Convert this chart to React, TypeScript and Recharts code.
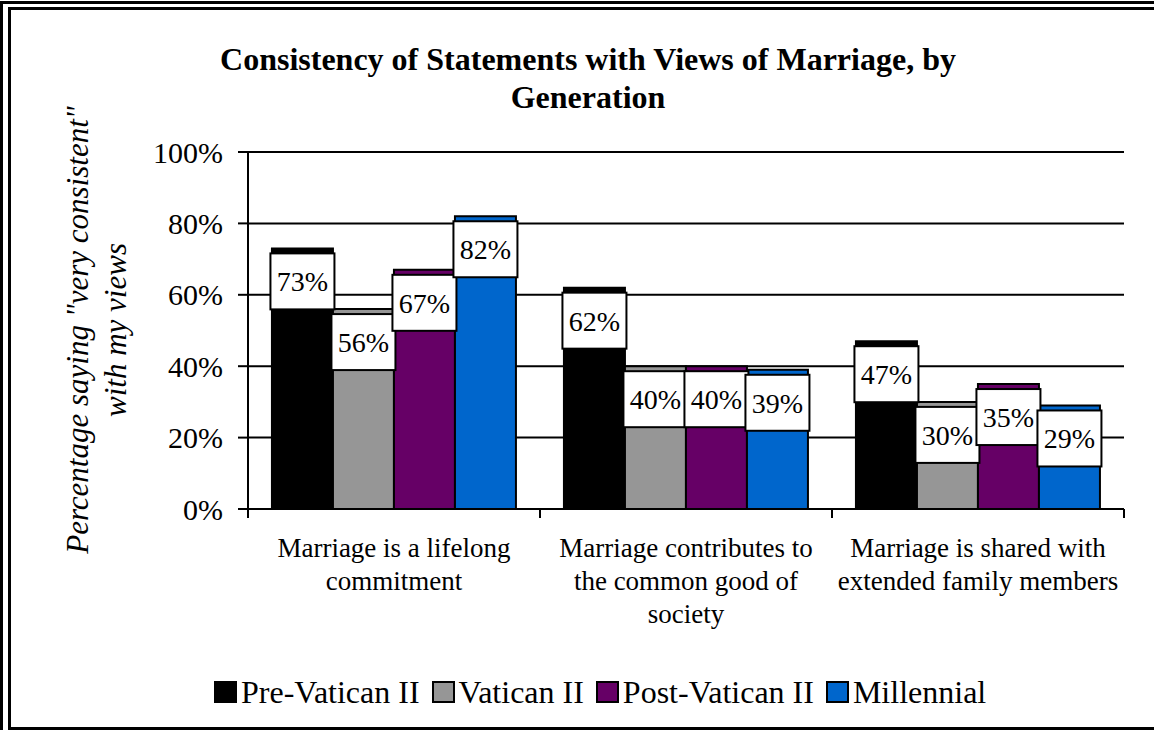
import React from "react";
import {
  Bar,
  BarChart,
  CartesianGrid,
  Customized,
  LabelList,
  Legend,
  XAxis,
  YAxis,
} from "recharts";

// category labels, already broken into lines like the original
const categories = [
  ["Marriage is a lifelong", "commitment"],
  ["Marriage contributes to", "the common good of", "society"],
  ["Marriage is shared with", "extended family members"],
];

const seriesNames = ["Pre-Vatican II", "Vatican II", "Post-Vatican II", "Millennial"];
const seriesColors = ["#000000", "#969696", "#660066", "#0066CC"];

const preVatican = [73, 62, 47];
const vatican = [56, 40, 30];
const postVatican = [67, 40, 35];
const millennial = [82, 39, 29];

const yTicks = [0, 20, 40, 60, 80, 100];

const titleLines = ["Consistency of Statements with Views of Marriage, by", "Generation"];
const yTitleLines = ['Percentage saying "very consistent"', "with my views"];

const seriesValues = [preVatican, vatican, postVatican, millennial];

const data = categories.map((lines, i) => {
  const row: Record<string, string | number> = { name: lines.join(" ") };
  seriesNames.forEach((s, k) => {
    row[s] = seriesValues[k][i];
  });
  return row;
});

const FONT = '"Liberation Serif", "Times New Roman", Times, serif';

// category label plus the tick marks between categories (Excel style)
function CategoryTick(props: any) {
  const { x, y, payload, width, visibleTicksCount, index } = props;
  const band = (width || 876) / (visibleTicksCount || categories.length);
  const lines = categories[payload.index ?? index] || [String(payload.value)];
  return (
    <g>
      {index === 0 && (
        <line x1={x - band / 2} x2={x - band / 2} y1={y} y2={y + 9} stroke="#000" strokeWidth={2} />
      )}
      <line x1={x + band / 2} x2={x + band / 2} y1={y} y2={y + 9} stroke="#000" strokeWidth={2} />
      {lines.map((line, i) => (
        <text
          key={i}
          x={x}
          y={y + 48 + i * 33}
          textAnchor="middle"
          style={{ fontFamily: FONT, fontSize: 27 }}
          fill="#000"
        >
          {line}
        </text>
      ))}
    </g>
  );
}

function BoxLabel(props: any) {
  const { x, y, width, value } = props;
  const cx = x + width / 2;
  const boxW = 64;
  return (
    <g>
      <rect
        x={cx - boxW / 2}
        y={y + 5}
        width={boxW}
        height={56}
        fill="#fff"
        stroke="#000"
        strokeWidth={2}
      />
      <text
        x={cx}
        y={y + 43}
        textAnchor="middle"
        style={{ fontFamily: FONT, fontSize: 28 }}
        fill="#000"
      >
        {`${value}%`}
      </text>
    </g>
  );
}

function Titles() {
  return (
    <g>
      {titleLines.map((t, i) => (
        <text
          key={"t" + i}
          x={588}
          y={70 + i * 38}
          textAnchor="middle"
          style={{ fontFamily: FONT, fontSize: 32, fontWeight: "bold" }}
          fill="#000"
        >
          {t}
        </text>
      ))}
      {yTitleLines.map((t, i) => {
        const tx = 88 + i * 38;
        const ty = 330;
        return (
          <text
            key={"y" + i}
            x={tx}
            y={ty}
            transform={`rotate(-90, ${tx}, ${ty})`}
            textAnchor="middle"
            style={{ fontFamily: FONT, fontSize: 31, fontStyle: "italic" }}
            fill="#000"
          >
            {t}
          </text>
        );
      })}
    </g>
  );
}

// legend drawn in series order (recharts would sort it by name)
function LegendContent() {
  return (
    <div
      style={{
        display: "flex",
        alignItems: "baseline",
        paddingLeft: 214,
        fontFamily: FONT,
        fontSize: 32,
        lineHeight: "32px",
        color: "#000",
        whiteSpace: "nowrap",
      }}
    >
      {seriesNames.map((name, i) => (
        <span key={name} style={{ marginRight: 12 }}>
          <span
            style={{
              display: "inline-block",
              width: 19,
              height: 18,
              background: seriesColors[i],
              border: "2px solid #000",
              marginRight: 4,
              verticalAlign: "baseline",
            }}
          />
          {name}
        </span>
      ))}
    </div>
  );
}

export default function App() {
  return (
    <div
      style={{
        position: "absolute",
        left: 0,
        top: 0,
        width: 1154,
        height: 730,
        overflow: "hidden",
        background: "#fff",
      }}
    >
      {/* double frame, cropped at right and bottom like the original */}
      <div
        style={{
          position: "absolute",
          left: 0,
          top: 1,
          width: 1200,
          height: 760,
          border: "3px solid #000",
          boxSizing: "border-box",
        }}
      />
      <div
        style={{
          position: "absolute",
          left: 8,
          top: 7,
          width: 1200,
          height: 723,
          border: "3px solid #000",
          boxSizing: "border-box",
        }}
      />
      <div style={{ position: "absolute", left: 0, top: 0 }}>
        <BarChart
          width={1154}
          height={730}
          data={data}
          margin={{ top: 152, right: 30, left: 0, bottom: 100 }}
          barGap={0}
          barCategoryGap="8.2%"
        >
          <CartesianGrid horizontal vertical={false} stroke="#000" strokeWidth={2} />
          <XAxis
            dataKey="name"
            height={121}
            axisLine={{ stroke: "#000", strokeWidth: 2 }}
            tickLine={false}
            tickSize={0}
            tickMargin={0}
            interval={0}
            tick={<CategoryTick />}
          />
          <YAxis
            width={248}
            domain={[0, 100]}
            ticks={yTicks}
            interval={0}
            tickFormatter={(v) => `${v}%`}
            tickSize={10}
            tickMargin={15}
            axisLine={{ stroke: "#000", strokeWidth: 2 }}
            tickLine={{ stroke: "#000", strokeWidth: 2 }}
            tick={{ fontSize: 30, fill: "#000", fontFamily: FONT }}
          />
          {seriesNames.map((s, k) => (
            <Bar
              key={s}
              dataKey={s}
              fill={seriesColors[k]}
              stroke="#000"
              strokeWidth={2}
              isAnimationActive={false}
            >
              <LabelList dataKey={s} content={<BoxLabel />} />
            </Bar>
          ))}
          <Legend
            layout="horizontal"
            verticalAlign="middle"
            align="center"
            wrapperStyle={{ left: 0, top: 676, width: 1154 }}
            content={<LegendContent />}
          />
          <Customized component={<Titles />} />
        </BarChart>
      </div>
    </div>
  );
}
